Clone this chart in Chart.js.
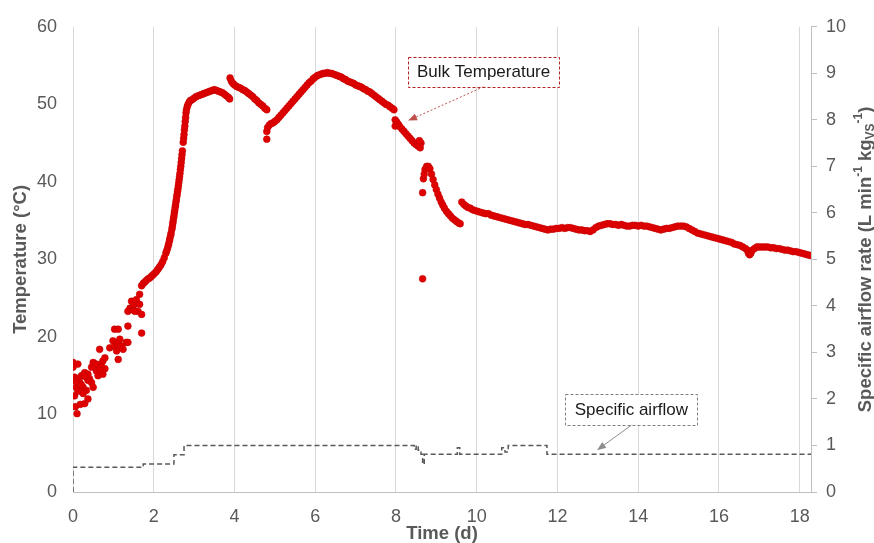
<!DOCTYPE html>
<html>
<head>
<meta charset="utf-8">
<script src="https://cdn.jsdelivr.net/npm/chart.js@4"></script>
<style>
  body { margin: 0; background: #fff; }
  canvas { display: block; }
</style>
</head>
<body>
<canvas id="chart" width="874" height="543"></canvas>
<script>
// Bulk temperature readings (day, °C)
const tempDays = [
  0.00, 0.00, 0.12, 0.04, 0.08, 0.04, 0.06, 0.10, 0.18, 0.29, 0.37, 0.33, 0.25, 0.17, 0.21, 0.29,
  0.37, 0.41, 0.46, 0.50, 0.37, 0.12, 0.17, 0.25, 0.46, 0.54, 0.58, 0.66, 0.70, 0.74, 0.79, 0.62,
  0.74, 0.79, 0.66, 0.50, 0.58, 0.91, 0.99, 1.03, 1.12, 1.16, 1.20, 1.24, 1.08, 1.12, 1.03, 1.12,
  1.32, 1.36, 1.36, 1.45, 1.41, 1.49, 1.53, 1.57, 1.65, 1.61, 1.70, 1.65, 1.70, 1.36, 1.53, 0.08,
  0.21, 0.29, 0.12,
  1.70, 1.74, 1.78, 1.82, 1.86, 1.90, 1.94, 1.98, 2.02, 2.06, 2.10, 2.14, 2.18, 2.22, 2.26, 2.30,
  2.32, 2.34, 2.36, 2.37, 2.39, 2.40, 2.42, 2.43, 2.45, 2.46, 2.47, 2.48, 2.49, 2.50, 2.51, 2.52,
  2.53, 2.54, 2.55, 2.56, 2.57, 2.58, 2.59, 2.60, 2.61, 2.62, 2.63, 2.64, 2.65, 2.66, 2.67, 2.68,
  2.69, 2.70, 2.71, 2.73, 2.74, 2.75, 2.76, 2.77, 2.78, 2.79, 2.80, 2.81, 2.83, 2.85, 2.88, 2.91,
  2.95, 3.00, 3.05, 3.10, 3.15, 3.20, 3.25, 3.30,
  3.35, 3.40, 3.45, 3.50, 3.55, 3.60, 3.65, 3.70, 3.75, 3.80, 3.85, 3.88,
  3.89, 3.92, 3.96, 4.00, 4.05, 4.10, 4.15, 4.20, 4.25, 4.30, 4.35, 4.40, 4.45, 4.50, 4.55, 4.60,
  4.65, 4.70, 4.75, 4.80,
  4.80, 4.80, 4.82, 4.86, 4.90, 4.95, 5.00, 5.05, 5.10, 5.15, 5.20, 5.25, 5.30, 5.35, 5.40, 5.45,
  5.50, 5.55, 5.60, 5.65, 5.70, 5.75, 5.80, 5.85, 5.90, 5.95, 6.00, 6.05, 6.10, 6.15, 6.20, 6.25,
  6.30, 6.35, 6.40, 6.45, 6.50, 6.55, 6.60, 6.65, 6.70, 6.75, 6.80, 6.85, 6.90, 6.95, 7.00, 7.05,
  7.10, 7.15, 7.20, 7.25, 7.30, 7.35, 7.40, 7.45, 7.50, 7.55, 7.60, 7.65, 7.70, 7.75, 7.80, 7.85,
  7.90, 7.95,
  7.98, 7.98, 8.02, 8.06, 8.10, 8.15, 8.20, 8.25, 8.30, 8.35, 8.40, 8.45, 8.50, 8.55, 8.60, 8.62,
  8.58,
  8.66, 8.66, 8.68, 8.70, 8.72, 8.76, 8.80, 8.84, 8.88, 8.92, 8.96, 9.00, 9.04, 9.08, 9.12, 9.16,
  9.20, 9.25, 9.30, 9.35, 9.40, 9.45, 9.50, 9.55, 9.59,
  9.63, 9.68, 9.73, 9.78, 9.84, 9.90, 9.96, 10.02, 10.08, 10.15, 10.22, 10.29, 10.36, 10.43, 10.50, 10.57,
  10.64, 10.71, 10.78, 10.85, 10.92, 10.99, 11.06, 11.13, 11.20, 11.27, 11.34, 11.41, 11.48, 11.55, 11.62, 11.69,
  11.76, 11.83, 11.90, 11.97, 12.04, 12.11, 12.18, 12.25, 12.32, 12.39, 12.46, 12.53, 12.60, 12.67, 12.74, 12.81,
  12.88, 12.95, 13.02, 13.09, 13.16, 13.23, 13.30, 13.37, 13.44, 13.51, 13.58, 13.65, 13.72, 13.79, 13.86, 13.93,
  14.00, 14.07, 14.14, 14.21, 14.28, 14.35, 14.42, 14.49, 14.56, 14.63, 14.70, 14.77, 14.84, 14.91, 14.98, 15.05,
  15.12, 15.19, 15.26, 15.33, 15.40, 15.47, 15.54, 15.61, 15.68, 15.75, 15.82, 15.89, 15.96, 16.03, 16.10, 16.17,
  16.24, 16.31, 16.38, 16.45, 16.52, 16.59, 16.66, 16.70, 16.73, 16.76, 16.79, 16.83, 16.88, 16.94, 17.00, 17.07,
  17.14, 17.21, 17.28, 17.35, 17.42, 17.49, 17.56, 17.63, 17.70, 17.77, 17.84, 17.91, 17.98, 18.05, 18.12, 18.19,
  18.26
];
const tempC = [
  16.7, 16.1, 16.5, 14.8, 13.5, 12.4, 11.0, 10.1, 11.3, 11.4, 12.0, 13.1, 13.5, 14.1, 15.0, 15.4,
  15.2, 14.6, 14.1, 13.5, 14.4, 14.6, 13.1, 12.7, 16.1, 16.3, 15.6, 15.9, 16.5, 16.9, 17.3, 15.0,
  15.2, 15.9, 18.4, 16.7, 16.5, 18.6, 19.5, 18.8, 19.3, 19.7, 18.8, 18.4, 18.2, 17.1, 21.0, 21.0,
  19.3, 19.3, 21.4, 24.6, 23.7, 23.5, 24.2, 24.8, 24.2, 23.3, 22.9, 25.5, 20.5, 23.3, 23.3, 14.2,
  13.8, 14.9, 13.0,
  26.6, 26.9, 27.1, 27.3, 27.5, 27.6, 27.8, 28.0, 28.2, 28.4, 28.7, 29.0, 29.3, 29.7, 30.2, 30.8,
  31.1, 31.4, 31.8, 32.0, 32.4, 32.7, 33.1, 33.4, 33.9, 34.2, 34.6, 34.9, 35.3, 35.6, 36.0, 36.3,
  36.7, 37.0, 37.4, 37.7, 38.1, 38.4, 38.8, 39.1, 39.5, 39.9, 40.3, 40.7, 41.1, 41.6, 42.0, 42.5,
  43.0, 43.5, 44.0, 45.1, 45.6, 46.1, 46.7, 47.2, 47.8, 48.3, 48.9, 49.3, 49.7, 50.0, 50.3, 50.5,
  50.6, 50.8, 51.0, 51.1, 51.2, 51.3, 51.4, 51.5,
  51.6, 51.7, 51.8, 51.9, 51.8, 51.7, 51.6, 51.5, 51.3, 51.1, 50.9, 50.7,
  53.4, 53.0, 52.7, 52.5, 52.3, 52.2, 52.1, 51.9, 51.8, 51.6, 51.4, 51.2, 51.0, 50.7, 50.5, 50.2,
  50.0, 49.8, 49.5, 49.3,
  45.5, 46.5, 47.0, 47.3, 47.5, 47.6, 47.8, 48.0, 48.3, 48.6, 48.9, 49.2, 49.5, 49.8, 50.1, 50.4,
  50.7, 51.0, 51.3, 51.6, 51.9, 52.2, 52.5, 52.8, 53.0, 53.3, 53.5, 53.7, 53.8, 53.9, 54.0, 54.0,
  54.1, 54.0, 54.0, 53.9, 53.8, 53.7, 53.6, 53.5, 53.3, 53.2, 53.0, 52.9, 52.8, 52.7, 52.5, 52.4,
  52.3, 52.2, 52.0, 51.9, 51.7, 51.6, 51.4, 51.2, 51.0, 50.8, 50.6, 50.4, 50.2, 50.0, 49.9, 49.7,
  49.5, 49.3,
  48.0, 47.2, 47.7, 47.4, 47.1, 46.8, 46.5, 46.2, 45.9, 45.6, 45.3, 45.0, 44.8, 44.6, 44.4, 45.0,
  45.3,
  27.5, 38.6, 40.4, 41.0, 41.6, 42.0, 42.0, 41.7, 41.0, 40.3, 39.6, 39.0, 38.4, 37.9, 37.4, 37.0,
  36.6, 36.2, 35.9, 35.6, 35.3, 35.1, 34.9, 34.7, 34.6,
  37.4, 37.1, 36.9, 36.7, 36.6, 36.4, 36.3, 36.2, 36.1, 36.0, 35.9, 35.9, 35.7, 35.6, 35.5, 35.4,
  35.3, 35.2, 35.1, 35.0, 34.9, 34.8, 34.7, 34.6, 34.5, 34.5, 34.4, 34.3, 34.2, 34.1, 34.0, 33.9,
  33.8, 33.9, 33.9, 34.0, 34.0, 34.1, 34.0, 34.1, 34.1, 34.0, 33.9, 33.8, 33.8, 33.7, 33.7, 33.6,
  33.8, 34.1, 34.3, 34.4, 34.5, 34.6, 34.6, 34.5, 34.5, 34.4, 34.5, 34.4, 34.3, 34.3, 34.4, 34.4,
  34.3, 34.4, 34.3, 34.3, 34.2, 34.1, 34.0, 33.9, 33.8, 33.9, 34.0, 34.0, 34.1, 34.2, 34.3, 34.3,
  34.3, 34.2, 34.0, 33.8, 33.6, 33.4, 33.3, 33.2, 33.1, 33.0, 32.9, 32.8, 32.7, 32.6, 32.5, 32.4,
  32.3, 32.2, 32.0, 31.9, 31.8, 31.6, 31.4, 31.2, 30.8, 30.6, 30.8, 31.2, 31.4, 31.6, 31.6, 31.6,
  31.6, 31.6, 31.5, 31.5, 31.4, 31.4, 31.3, 31.2, 31.2, 31.1, 31.0, 31.0, 30.9, 30.8, 30.7, 30.6,
  30.5
];

// Specific airflow rate (L/min/kgVS), step changes (stepped 'before')
const airflowDays = [0, 0, 1.74, 2.50, 2.75, 8.45, 8.50, 8.55, 8.62, 8.66, 8.70, 9.52, 9.58, 10.62, 10.70, 10.78, 11.74, 18.28];
const airflowRate = [0, 0.53, 0.60, 0.80, 1.00, 0.92, 1.00, 0.90, 0.81, 0.60, 0.81, 0.95, 0.81, 0.95, 0.86, 1.00, 0.81, 0.81];

const xTicksMax = 18.28;
const tempAxisMax = 60;
const airflowAxisMax = 10;

const grey = '#595959';
const fam = '"Liberation Sans", Arial, sans-serif';

// callout boxes with arrows, anchored in data units
const callouts = [
  { text: 'Bulk Temperature', x: 10.17, y: 54.2, axis: 'y', w: 151, h: 30,
    tipX: 8.3, tipY: 47.9, box: '#b22222', arrow: '#c0504d', arrowDash: [2, 2] },
  { text: 'Specific airflow', x: 13.83, y: 1.77, axis: 'y2', w: 132, h: 31,
    tipX: 12.98, tipY: 0.9, box: '#7f7f7f', arrow: '#8c8c8c', arrowDash: [] }
];

const calloutPlugin = {
  id: 'callouts',
  afterDatasetsDraw(chart) {
    const ctx = chart.ctx;
    const xs = chart.scales.x;
    callouts.forEach(c => {
      const ys = chart.scales[c.axis];
      const cx = xs.getPixelForValue(c.x), cy = ys.getPixelForValue(c.y);
      const tx = xs.getPixelForValue(c.tipX), ty = ys.getPixelForValue(c.tipY);
      ctx.save();
      ctx.fillStyle = '#fff';
      ctx.fillRect(cx - c.w / 2, cy - c.h / 2, c.w, c.h);
      ctx.strokeStyle = c.box;
      ctx.lineWidth = 1;
      ctx.setLineDash([3, 2]);
      ctx.strokeRect(Math.round(cx - c.w / 2) + 0.5, Math.round(cy - c.h / 2) + 0.5, c.w, c.h);
      ctx.setLineDash([]);
      ctx.fillStyle = '#1a1a1a';
      ctx.font = '17px ' + fam;
      ctx.textAlign = 'center';
      ctx.textBaseline = 'middle';
      ctx.fillText(c.text, cx, cy + 1);
      // arrow from box bottom to the tip
      const sx = cx, sy = cy + c.h / 2;
      const ang = Math.atan2(ty - sy, tx - sx);
      const hl = 9, hw = 3.5;
      const bx = tx - hl * Math.cos(ang), by = ty - hl * Math.sin(ang);
      ctx.strokeStyle = c.arrow;
      ctx.lineWidth = 1;
      ctx.setLineDash(c.arrowDash);
      ctx.beginPath();
      ctx.moveTo(sx, sy);
      ctx.lineTo(bx, by);
      ctx.stroke();
      ctx.setLineDash([]);
      ctx.fillStyle = c.arrow;
      ctx.beginPath();
      ctx.moveTo(tx, ty);
      ctx.lineTo(bx + hw * Math.sin(ang), by - hw * Math.cos(ang));
      ctx.lineTo(bx - hw * Math.sin(ang), by + hw * Math.cos(ang));
      ctx.closePath();
      ctx.fill();
      ctx.restore();
    });
  }
};

// right axis title with sub/superscripts, reading bottom to top
const rightTitlePlugin = {
  id: 'rightTitle',
  afterDraw(chart) {
    const ctx = chart.ctx;
    const area = chart.chartArea;
    const parts = [
      { t: 'Specific airflow rate (L min', k: 'n' },
      { t: '-1', k: 'sup' },
      { t: ' kg', k: 'n' },
      { t: 'VS', k: 'sub' },
      { t: '-1', k: 'sup' },
      { t: ')', k: 'n' }
    ];
    const fontFor = k => (k === 'n' ? 'bold 18.5px ' : 'bold 12px ') + fam;
    ctx.save();
    let total = 0;
    parts.forEach(p => { ctx.font = fontFor(p.k); p.w = ctx.measureText(p.t).width; total += p.w; });
    ctx.translate(866, (area.top + area.bottom) / 2);
    ctx.rotate(-Math.PI / 2);
    ctx.fillStyle = grey;
    ctx.textBaseline = 'middle';
    ctx.textAlign = 'left';
    let x = -total / 2;
    parts.forEach(p => {
      ctx.font = fontFor(p.k);
      const dy = p.k === 'sup' ? -7 : (p.k === 'sub' ? 5 : 0);
      ctx.fillText(p.t, x, dy);
      x += p.w;
    });
    ctx.restore();
  }
};

const tickFont = { family: fam, size: 18 };
const titleFont = { family: fam, size: 18.5, weight: 'bold' };

new Chart(document.getElementById('chart'), {
  data: {
    datasets: [
      {
        type: 'line',
        label: 'Specific airflow',
        yAxisID: 'y2',
        data: airflowDays.map((d, i) => ({ x: d, y: airflowRate[i] })),
        stepped: 'before',
        borderColor: grey,
        borderWidth: 1.5,
        borderDash: [5, 3],
        pointRadius: 0,
        fill: false
      },
      {
        type: 'scatter',
        label: 'Bulk Temperature',
        yAxisID: 'y',
        data: tempDays.map((d, i) => ({ x: d, y: tempC[i] })),
        backgroundColor: '#e00000',
        borderColor: '#c40000',
        borderWidth: 0.6,
        pointRadius: 3.4
      }
    ]
  },
  options: {
    responsive: false,
    animation: false,
    devicePixelRatio: 1,
    layout: { padding: { top: 23, left: 0, right: 0, bottom: 0 } },
    plugins: { legend: { display: false }, tooltip: { enabled: false } },
    scales: {
      x: {
        type: 'linear',
        min: 0,
        max: xTicksMax,
        ticks: { stepSize: 2, includeBounds: false, color: grey, font: tickFont, padding: 14 },
        grid: { color: '#d9d9d9', lineWidth: 1, drawTicks: false },
        border: { display: true, color: '#bfbfbf' },
        title: { display: true, text: 'Time (d)', color: grey, font: titleFont, padding: { top: 0, bottom: -2 } },
        afterFit: s => { s.height = 51; }
      },
      y: {
        position: 'left',
        min: 0,
        max: tempAxisMax,
        ticks: { stepSize: 10, color: grey, font: tickFont, padding: 16 },
        grid: { display: false, drawTicks: false },
        border: { display: false },
        title: { display: true, text: 'Temperature (°C)', color: grey, font: titleFont, padding: { top: 10, bottom: 0 } },
        afterFit: s => { s.width = 73; }
      },
      y2: {
        position: 'right',
        min: 0,
        max: airflowAxisMax,
        ticks: { stepSize: 1, color: grey, font: tickFont, padding: 9 },
        grid: { drawOnChartArea: false, drawTicks: true, tickLength: 6, color: '#bfbfbf' },
        border: { display: true, color: '#bfbfbf' },
        afterFit: s => { s.width = 63; }
      }
    }
  },
  plugins: [calloutPlugin, rightTitlePlugin]
});
</script>
</body>
</html>
